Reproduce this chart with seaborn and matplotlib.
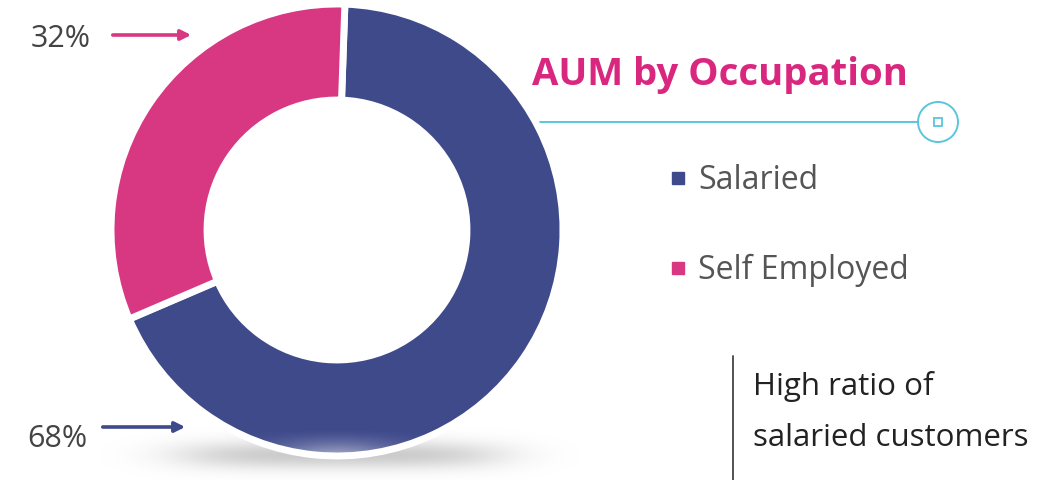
import numpy as np
import matplotlib
matplotlib.use("Agg")
import matplotlib.pyplot as plt
import seaborn as sns

# ---- data ----
categories = ["Salaried", "Self Employed"]
shares = [68, 32]
pct_labels = ["68%", "32%"]
colors = ["#3f4a8b", "#d83882"]
title = "AUM by Occupation"
note_lines = ["High ratio of", "salaried customers"]

sns.set_theme(style="white")
plt.rcParams['font.family'] = ['Open Sans', 'DejaVu Sans']

W, H = 1051, 480
fig = plt.figure(figsize=(W / 100, H / 100), dpi=100)
fig.patch.set_facecolor("white")

# background / annotation axes in pixel coordinates
bg = fig.add_axes([0, 0, 1, 1])
bg.set_xlim(0, W)
bg.set_ylim(H, 0)
bg.axis("off")

# soft shadow under the donut
xs = np.linspace(-1, 1, 400)
ys = np.linspace(-1, 1, 120)
X, Y = np.meshgrid(xs, ys)
alpha = 0.45 * np.exp(-(np.abs(X) / 0.68) ** 4 - (Y / 0.42) ** 2)
img = np.zeros((len(ys), len(xs), 4))
img[..., :3] = 0.55
img[..., 3] = alpha
bg.imshow(img, extent=[100, 580, 488, 422], aspect="auto", zorder=0,
          interpolation="bilinear")

# donut
cx, cy, R = 337, 230, 226
ax = fig.add_axes([(cx - R) / W, 1 - (cy + R) / H, 2 * R / W, 2 * R / H])
ax.set_facecolor("none")
wedges, _ = ax.pie(shares, colors=colors, startangle=88, counterclock=False, radius=1,
                   wedgeprops=dict(width=0.425, edgecolor="white", linewidth=5))
ax.set_xlim(-1, 1)
ax.set_ylim(-1, 1)
ax.set_aspect("equal")
ax.axis("off")

# light fade at the very bottom of the ring
gx = np.linspace(-1, 1, 300)
gy = np.linspace(-1, -0.85, 60)
GX, GY = np.meshgrid(gx, gy)
fade = np.zeros((len(gy), len(gx), 4))
fade[..., :3] = 1.0
fade[..., 3] = 0.55 * np.clip((-0.88 - GY) / 0.12, 0, 1) ** 1.5 * np.exp(-(GX / 0.3) ** 2)
im = ax.imshow(fade, extent=[-1, 1, -1, -0.85], origin="lower", aspect="auto",
               interpolation="bilinear", zorder=5)
im.set_clip_path(wedges[0])

# percentage labels with arrows
txt_col = "#444444"
bg.text(31, 47, pct_labels[1], fontsize=22, color=txt_col, ha="left", va="baseline")
bg.annotate("", xy=(194, 35), xytext=(110, 35),
            arrowprops=dict(arrowstyle="-|>,head_length=0.5,head_width=0.25",
                            color=colors[1], lw=2.6))
bg.text(27, 447, pct_labels[0], fontsize=22, color=txt_col, ha="left", va="baseline")
bg.annotate("", xy=(188, 427), xytext=(100, 427),
            arrowprops=dict(arrowstyle="-|>,head_length=0.5,head_width=0.25",
                            color=colors[0], lw=2.6))

# title
bg.text(532, 85, title, fontsize=27.5, fontweight="bold", color="#d9277f",
        ha="left", va="baseline")

# cyan connector line with circle marker
cyan = "#5bc5dc"
bg.plot([537, 918], [122, 122], color=cyan, lw=1.4)
bg.add_patch(plt.Circle((938, 122), 20, fill=False, edgecolor=cyan, lw=1.4))
bg.add_patch(plt.Rectangle((934, 118), 8, 8, fill=False, edgecolor=cyan, lw=1.3))

# legend
leg_y = [178, 268]
for cat, col, y in zip(categories, colors, leg_y):
    bg.add_patch(plt.Rectangle((672, y - 6), 12, 12, color=col))
    bg.text(698, y + 11, cat, fontsize=23, color="#555555", ha="left", va="baseline")

# note with vertical rule
bg.plot([733, 733], [356, 480], color="#444444", lw=1.3)
bg.text(753, 395, note_lines[0], fontsize=22.5, color="#222222", ha="left", va="baseline")
bg.text(753, 446, note_lines[1], fontsize=22.5, color="#222222", ha="left", va="baseline")

fig.savefig("out.png", dpi=100, facecolor="white")
